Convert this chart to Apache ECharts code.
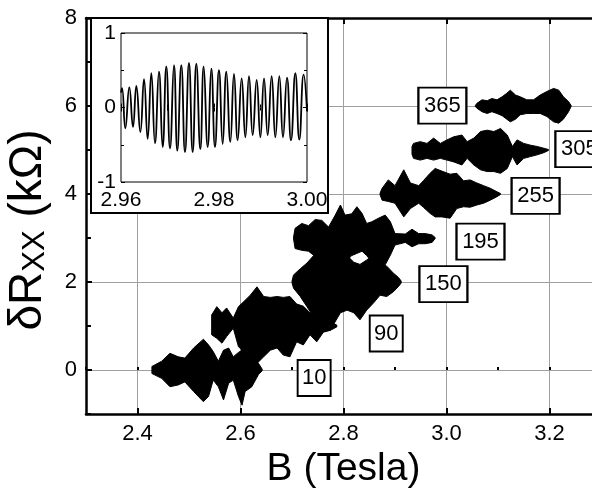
<!DOCTYPE html>
<html><head><meta charset="utf-8">
<script src="https://cdn.jsdelivr.net/npm/echarts@6/dist/echarts.min.js"></script>
<style>html,body{margin:0;padding:0;background:#fff}#c{width:592px;height:489px}</style>
</head><body><div id="c"></div>
<script>
// ---- main-panel tick labels ----
const xMajorTicks = [2.4, 2.6, 2.8, 3.0, 3.2];
const yMajorTicks = [0, 2, 4, 6, 8];

// ---- trace offsets (kOhm) and annotation labels ----
const traceOffsets = [0, 1, 2, 3, 4, 5, 6];
const labelText = ['10', '90', '150', '195', '255', '305', '365'];
const labelB = [2.743, 2.883, 2.994, 3.066, 3.173, 3.258, 2.992];
const labelV = [-0.18, 0.83, 1.95, 2.92, 3.96, 5.02, 6.01];

// ---- oscillation envelopes (upper / lower, relative to offset) ----
const b10 = [2.428, 2.447, 2.463, 2.479, 2.492, 2.509, 2.528, 2.538, 2.547, 2.557, 2.567, 2.577, 2.586, 2.596, 2.603, 2.609, 2.622, 2.635, 2.642];
const hi10 = [0.08, 0.2, 0.38, 0.3, 0.27, 0.5, 0.7, 0.57, 0.42, 0.2, 0.45, 0.5, 0.3, 0.4, 0.45, 0.45, 0.35, 0.15, 0.02];
const lo10 = [-0.08, -0.19, -0.38, -0.34, -0.27, -0.49, -0.72, -0.6, -0.23, -0.38, -0.68, -0.3, -0.23, -0.6, -0.8, -0.49, -0.38, -0.1, -0.02];

const b90 = [2.544, 2.554, 2.564, 2.573, 2.586, 2.596, 2.606, 2.619, 2.632, 2.645, 2.658, 2.671, 2.683, 2.696, 2.709, 2.722, 2.735, 2.748, 2.761, 2.774, 2.787];
const hi90 = [0.25, 0.44, 0.3, 0.41, 0.18, 0.44, 0.55, 0.7, 0.89, 0.67, 0.65, 0.67, 0.65, 0.67, 0.5, 0.45, 0.3, 0.33, 0.14, 0.1, 0.02];
const lo90 = [-0.2, -0.28, -0.39, -0.24, -0.05, -0.47, -0.58, -0.8, -0.85, -0.7, -0.55, -0.5, -0.66, -0.7, -0.36, -0.43, -0.2, -0.36, -0.14, -0.1, -0.02];

const b150 = [2.700, 2.703, 2.716, 2.729, 2.742, 2.755, 2.774, 2.794, 2.807, 2.820, 2.832, 2.845, 2.858, 2.871, 2.884, 2.897, 2.907, 2.912];
const hi150 = [0.02, 0.16, 0.3, 0.43, 0.6, 0.8, 0.9, 0.8, 0.6, 0.45, 0.4, 0.5, 0.61, 0.43, 0.36, 0.2, 0.1, 0.02];
const lo150 = [-0.02, -0.14, -0.33, -0.56, -0.79, -1.0, -1.1, -0.7, -0.64, -0.7, -0.86, -0.64, -0.48, -0.3, -0.33, -0.22, -0.1, -0.02];

const b195 = [2.703, 2.706, 2.719, 2.732, 2.745, 2.758, 2.771, 2.784, 2.794, 2.803, 2.816, 2.826, 2.836, 2.845, 2.855, 2.868, 2.881, 2.891, 2.900, 2.920, 2.933, 2.946, 2.959, 2.972, 2.978];
const hi195 = [0.02, 0.22, 0.33, 0.28, 0.42, 0.4, 0.25, 0.52, 0.75, 0.52, 0.55, 0.71, 0.56, 0.33, 0.37, 0.45, 0.52, 0.37, 0.1, 0.09, 0.2, 0.1, 0.1, 0.07, 0.01];
const lo195 = [-0.02, -0.24, -0.28, -0.3, -0.42, -0.35, -0.42, -0.65, -0.6, -0.55, -0.4, -0.35, -0.3, -0.4, -0.54, -0.61, -0.61, -0.39, -0.16, -0.1, -0.2, -0.13, -0.13, -0.1, -0.01];

const b255 = [2.871, 2.875, 2.887, 2.900, 2.917, 2.930, 2.946, 2.955, 2.968, 2.978, 2.991, 3.007, 3.020, 3.033, 3.046, 3.059, 3.072, 3.085, 3.098, 3.105];
const hi255 = [0.02, 0.13, 0.32, 0.19, 0.55, 0.25, 0.19, 0.3, 0.47, 0.58, 0.52, 0.45, 0.47, 0.3, 0.32, 0.25, 0.19, 0.13, 0.05, 0.01];
const lo255 = [-0.02, -0.14, -0.17, -0.21, -0.52, -0.33, -0.21, -0.3, -0.44, -0.52, -0.52, -0.55, -0.33, -0.29, -0.3, -0.25, -0.21, -0.14, -0.06, -0.01];

const b305 = [2.933, 2.936, 2.949, 2.962, 2.975, 2.988, 3.001, 3.014, 3.030, 3.040, 3.053, 3.066, 3.079, 3.092, 3.105, 3.118, 3.128, 3.137, 3.150, 3.163, 3.176, 3.189, 3.198];
const hi305 = [0.08, 0.15, 0.19, 0.15, 0.27, 0.15, 0.23, 0.3, 0.34, 0.19, 0.27, 0.42, 0.45, 0.42, 0.49, 0.34, 0.08, 0.23, 0.15, 0.11, 0.08, 0.04, 0.01];
const lo305 = [-0.1, -0.19, -0.23, -0.19, -0.23, -0.19, -0.23, -0.27, -0.34, -0.19, -0.34, -0.45, -0.49, -0.49, -0.53, -0.42, -0.15, -0.34, -0.19, -0.15, -0.11, -0.06, -0.01];

const b365 = [3.056, 3.059, 3.069, 3.079, 3.088, 3.098, 3.108, 3.117, 3.124, 3.134, 3.143, 3.156, 3.169, 3.182, 3.195, 3.208, 3.218, 3.227, 3.237, 3.242];
const hi365 = [0.01, 0.06, 0.14, 0.12, 0.17, 0.14, 0.21, 0.29, 0.36, 0.25, 0.21, 0.14, 0.14, 0.25, 0.33, 0.4, 0.36, 0.21, 0.1, 0.01];
const lo365 = [-0.01, -0.05, -0.13, -0.17, -0.13, -0.17, -0.22, -0.3, -0.36, -0.3, -0.2, -0.17, -0.17, -0.17, -0.24, -0.36, -0.39, -0.3, -0.13, -0.01];

// ---- inset: extrema of the oscillation (T, kOhm) ----
const insetB = [2.96000, 2.96022, 2.96093, 2.96179, 2.96258, 2.96330, 2.96416, 2.96495, 2.96573, 2.96652, 2.96731, 2.96817, 2.96896, 2.96975, 2.97054, 2.97140, 2.97211, 2.97297, 2.97376, 2.97462, 2.97541, 2.97620, 2.97706, 2.97778, 2.97864, 2.97943, 2.98021, 2.98107, 2.98186, 2.98265, 2.98351, 2.98430, 2.98509, 2.98595, 2.98674, 2.98753, 2.98832, 2.98918, 2.98997, 2.99076, 2.99154, 2.99240, 2.99319, 2.99405, 2.99484, 2.99570, 2.99656, 2.99749, 2.99835, 2.99928, 3.00000];
const insetV = [0.2, 0.26, -0.28, 0.27, -0.26, 0.29, -0.33, 0.38, -0.42, 0.46, -0.48, 0.48, -0.53, 0.55, -0.55, 0.57, -0.58, 0.57, -0.60, 0.60, -0.60, 0.59, -0.56, 0.55, -0.53, 0.52, -0.53, 0.50, -0.49, 0.48, -0.46, 0.45, -0.44, 0.39, -0.40, 0.42, -0.37, 0.37, -0.40, 0.39, -0.37, 0.42, -0.40, 0.42, -0.40, 0.40, -0.44, 0.46, -0.43, 0.44, -0.05];
const insetXTicks = [2.96, 2.98, 3.00];

const traceB = [b10, b90, b150, b195, b255, b305, b365];
const traceHi = [hi10, hi90, hi150, hi195, hi255, hi305, hi365];
const traceLo = [lo10, lo90, lo150, lo195, lo255, lo305, lo365];

const FONT = 'Liberation Sans, Arial, sans-serif';
const chart = echarts.init(document.getElementById('c'), null, {renderer: 'canvas'});

const traceData = traceB.map((b, i) => [b[0], traceOffsets[i], i]);
const insetData = insetB.map((b, i) => [b, insetV[i]]);
const labelData = labelText.map((t, i) => [labelB[i], labelV[i], t]);

const option = {
  animation: false,
  backgroundColor: '#fff',
  grid: [
    {left: 86, top: 18, width: 515, height: 396, show: false, outerBoundsMode: 'none', containLabel: false},
    {left: 121, top: 33, width: 186, height: 149, show: true, borderColor: '#000', borderWidth: 1,
     backgroundColor: 'transparent', z: 12, outerBoundsMode: 'none', containLabel: false}
  ],
  graphic: [{
    type: 'rect', z: 5,
    shape: {x: 91, y: 18, width: 237, height: 195},
    style: {fill: '#fff', stroke: '#000', lineWidth: 2}
  }],
  xAxis: [
    { // 0: main bottom, labels + grid lines
      gridIndex: 0, type: 'value', min: 2.3, max: 3.3, interval: 0.1, position: 'bottom', z: 0,
      axisLine: {show: true, onZero: false, lineStyle: {color: '#000', width: 2.5}},
      axisTick: {show: true, inside: true, length: 6, customValues: xMajorTicks, lineStyle: {color: '#000', width: 2}},
      axisLabel: {show: true, customValues: xMajorTicks, formatter: v => v.toFixed(1), fontSize: 22, fontFamily: FONT, color: '#000', margin: 9},
      splitLine: {show: true, lineStyle: {color: '#a0a0a0', width: 1}},
      name: 'B (Tesla)', nameLocation: 'middle', nameGap: 33,
      nameTextStyle: {fontSize: 39, fontFamily: FONT, color: '#000'}
    },
    { // 1: main bottom minor ticks
      gridIndex: 0, type: 'value', min: 2.3, max: 3.3, interval: 0.1, position: 'bottom', z: 0,
      axisLine: {show: false}, axisLabel: {show: false}, splitLine: {show: false},
      axisTick: {show: true, inside: true, length: 3, lineStyle: {color: '#000', width: 2}}
    },
    { // 2: main top frame
      gridIndex: 0, type: 'value', min: 2.3, max: 3.3, interval: 0.1, position: 'top', z: 0,
      axisLine: {show: true, onZero: false, lineStyle: {color: '#000', width: 2.5}},
      axisTick: {show: true, inside: true, length: 6, customValues: xMajorTicks, lineStyle: {color: '#000', width: 2}},
      axisLabel: {show: false}, splitLine: {show: false}
    },
    { // 3: inset bottom
      gridIndex: 1, type: 'value', min: 2.96, max: 3.00, interval: 0.02, position: 'bottom', z: 12,
      axisLine: {show: false},
      axisTick: {show: true, inside: true, length: 4, lineStyle: {color: '#000', width: 1}},
      minorTick: {show: true, splitNumber: 2, length: 3, lineStyle: {color: '#000', width: 1}},
      axisLabel: {show: true, customValues: insetXTicks, formatter: v => v.toFixed(2), fontSize: 21, fontFamily: FONT, color: '#000', margin: 8},
      splitLine: {show: false}
    },
    { // 4: inset top ticks
      gridIndex: 1, type: 'value', min: 2.96, max: 3.00, interval: 0.02, position: 'top', z: 12,
      axisLine: {show: false},
      axisTick: {show: true, inside: true, length: 4, lineStyle: {color: '#000', width: 1}},
      minorTick: {show: true, splitNumber: 2, length: 3, lineStyle: {color: '#000', width: 1}},
      axisLabel: {show: false}, splitLine: {show: false}
    }
  ],
  yAxis: [
    { // 0: main labels + grid lines
      gridIndex: 0, type: 'value', min: -1, max: 8, interval: 1, position: 'left', z: 0,
      axisLine: {show: false},
      axisTick: {show: false, customValues: yMajorTicks},
      axisLabel: {show: true, customValues: yMajorTicks, fontSize: 22, fontFamily: FONT, color: '#000', margin: 9},
      splitLine: {show: true, lineStyle: {color: '#a0a0a0', width: 1}},
      name: '{n|δR}{s|XX}{n| (kΩ)}', nameLocation: 'middle', nameGap: 35,
      nameTextStyle: {fontSize: 46, fontFamily: FONT, color: '#000', padding: [0, 28, 0, 0],
        rich: {n: {fontSize: 46, fontFamily: FONT, color: '#000', verticalAlign: 'bottom'},
               s: {fontSize: 31, fontFamily: FONT, color: '#000', verticalAlign: 'bottom'}}}
    },
    { // 1: main left line + major ticks (above inset box)
      gridIndex: 0, type: 'value', min: -1, max: 8, interval: 1, position: 'left', z: 20,
      axisLine: {show: true, onZero: false, lineStyle: {color: '#000', width: 2.5}},
      axisTick: {show: true, inside: true, length: 6, customValues: yMajorTicks, lineStyle: {color: '#000', width: 2}},
      axisLabel: {show: false}, splitLine: {show: false}
    },
    { // 2: main left minor ticks
      gridIndex: 0, type: 'value', min: -1, max: 8, interval: 1, position: 'left', z: 20,
      axisLine: {show: false},
      axisTick: {show: true, inside: true, length: 5, lineStyle: {color: '#000', width: 2}},
      axisLabel: {show: false}, splitLine: {show: false}
    },
    { // 3: inset left
      gridIndex: 1, type: 'value', min: -1, max: 1, interval: 1, position: 'left', z: 12,
      axisLine: {show: false},
      axisTick: {show: true, inside: true, length: 4, lineStyle: {color: '#000', width: 1}},
      minorTick: {show: true, splitNumber: 2, length: 3, lineStyle: {color: '#000', width: 1}},
      axisLabel: {show: true, fontSize: 21, fontFamily: FONT, color: '#000', margin: 5},
      splitLine: {show: false}
    },
    { // 4: inset right ticks
      gridIndex: 1, type: 'value', min: -1, max: 1, interval: 1, position: 'right', z: 12,
      axisLine: {show: false},
      axisTick: {show: true, inside: true, length: 4, lineStyle: {color: '#000', width: 1}},
      minorTick: {show: true, splitNumber: 2, length: 3, lineStyle: {color: '#000', width: 1}},
      axisLabel: {show: false}, splitLine: {show: false}
    }
  ],
  series: [
    {
      type: 'custom', xAxisIndex: 0, yAxisIndex: 0, z: 3,
      data: traceData, encode: {x: 0, y: 1},
      renderItem: function (params, api) {
        const k = params.dataIndex;
        const b = traceB[k], hi = traceHi[k], lo = traceLo[k], off = traceOffsets[k];
        const pts = [];
        for (let i = 0; i < b.length; i++) pts.push(api.coord([b[i], off + hi[i]]));
        for (let i = b.length - 1; i >= 0; i--) pts.push(api.coord([b[i], off + lo[i]]));
        return {type: 'polygon', shape: {points: pts}, style: {fill: '#000', stroke: '#000', lineWidth: 1, lineJoin: 'miter'}};
      }
    },
    {
      type: 'scatter', xAxisIndex: 0, yAxisIndex: 0, z: 25,
      data: labelData, symbol: 'rect',
      symbolSize: v => [v[2].length * 15 + 3, 36],
      itemStyle: {color: '#fff', borderColor: '#000', borderWidth: 2, opacity: 1},
      label: {show: true, position: 'inside', formatter: p => p.data[2],
        fontSize: 22, fontFamily: FONT, color: '#000', textBorderWidth: 0},
      emphasis: {disabled: true}
    },
    {
      type: 'line', xAxisIndex: 3, yAxisIndex: 3, z: 14,
      data: insetData, smooth: 0.5, showSymbol: false,
      lineStyle: {color: '#000', width: 1.8}
    }
  ]
};
chart.setOption(option);
</script></body></html>
